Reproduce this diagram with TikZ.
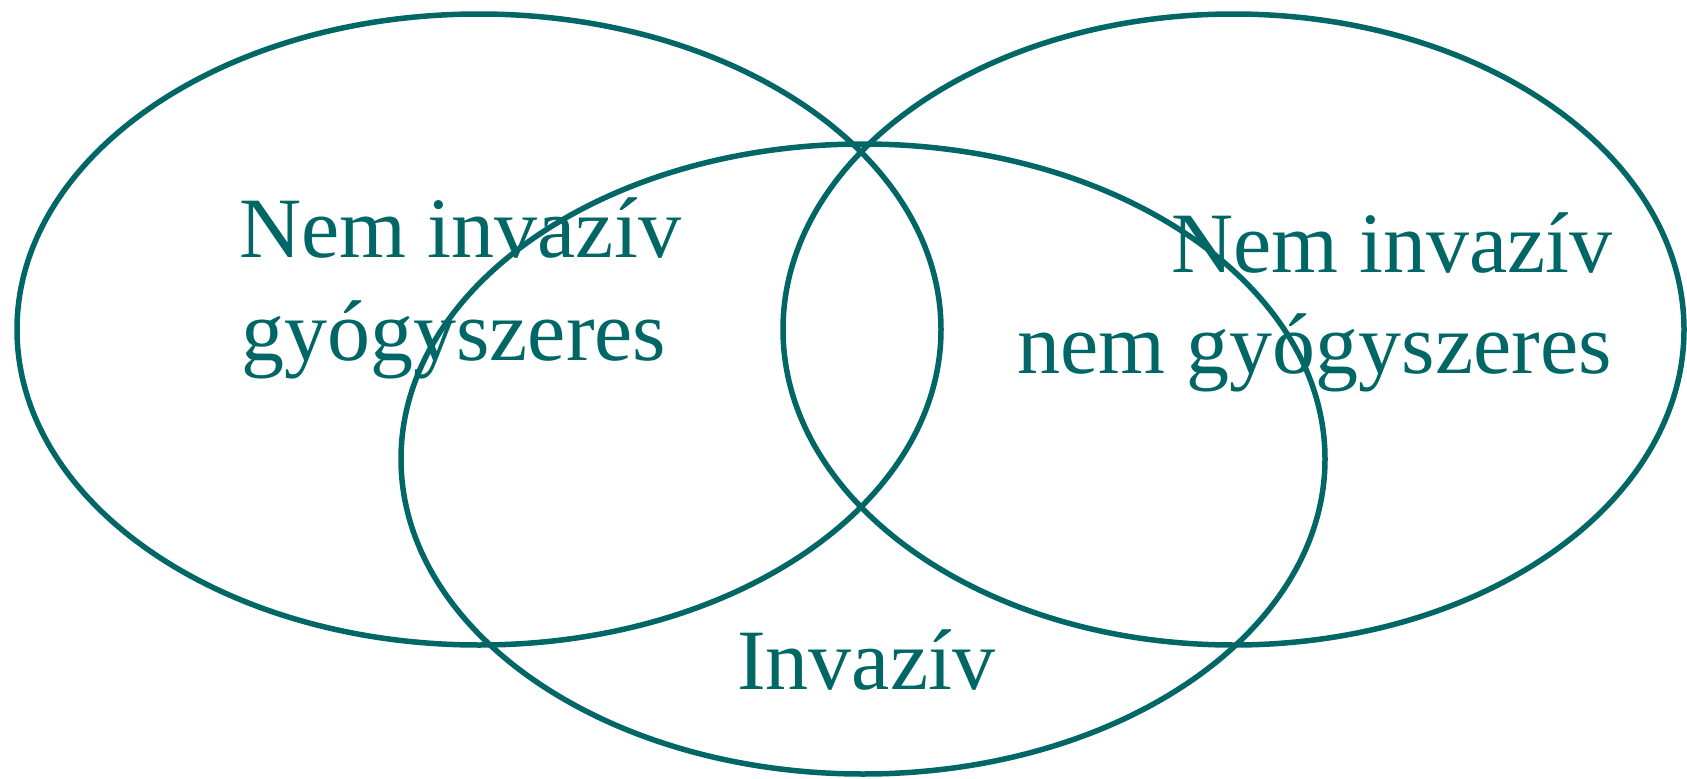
\documentclass[tikz,border=0pt]{standalone}
\usepackage{fontspec}
\setmainfont{Liberation Serif}
\definecolor{tealc}{RGB}{0,102,102}
\begin{document}
\begin{tikzpicture}[x=1pt,y=-1pt,
  ell/.style={draw=tealc, line width=5.5pt},
  lbl/.style={text=tealc, font=\fontsize{86}{103}\selectfont, inner sep=0pt}]
\useasboundingbox (0,0) rectangle (1687,779);
\draw[ell] (479,329.5) ellipse [x radius=462pt, y radius=315.5pt];
\draw[ell] (1233.5,329.5) ellipse [x radius=450.5pt, y radius=315.5pt];
\draw[ell] (863,459) ellipse [x radius=462pt, y radius=315pt];
\node[lbl, anchor=base west] (l1) at (239,257) {Nem invazív};
\node[lbl, anchor=base west] (l2) at (241,360) {gyógyszeres};
\node[lbl, anchor=base east] (r1) at (1613,272) {Nem invazív};
\node[lbl, anchor=base east] (r2) at (1612,373) {nem gyógyszeres};
\node[lbl, anchor=base west] (inv) at (737,689) {Invazív};
\end{tikzpicture}
\end{document}
